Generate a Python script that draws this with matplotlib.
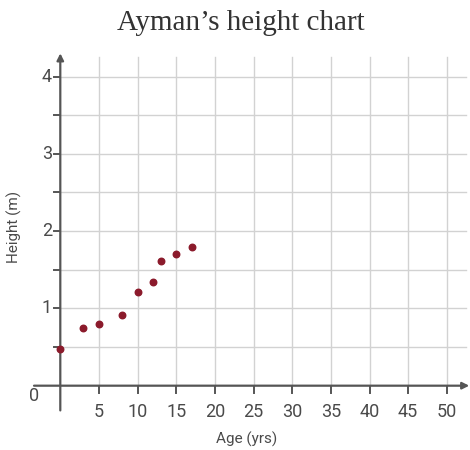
import matplotlib.pyplot as plt

age = [0, 3, 5, 8, 10, 12, 13, 15, 17]
height = [0.47, 0.75, 0.80, 0.92, 1.21, 1.34, 1.61, 1.71, 1.80]
x_ticks = [5, 10, 15, 20, 25, 30, 35, 40, 45, 50]
y_ticks = [1, 2, 3, 4]
y_minor = [0.5, 1, 1.5, 2, 2.5, 3, 3.5, 4]

tick_font = ['Roboto', 'DejaVu Sans']
axis_col = '#555555'
text_col = '#4a4a4a'

fig = plt.figure(figsize=(4.7, 4.5), dpi=100)
ax = fig.add_axes([0, 0, 1, 1])
ax.set_xlim(-7.80, 53.0)
ax.set_ylim(-0.832, 4.99)
ax.axis('off')

# grid
for xv in x_ticks:
    ax.plot([xv, xv], [0, 4.25], color='#d2d2d2', lw=1, zorder=1)
for yv in y_minor:
    ax.plot([0, 52.5], [yv, yv], color='#d2d2d2', lw=1, zorder=1)

# axes with arrows
ax.annotate('', xy=(52.9, 0), xytext=(-3.4, 0),
            arrowprops=dict(arrowstyle='-|>', color=axis_col, lw=1.6,
                            mutation_scale=10, shrinkA=0, shrinkB=0), zorder=2)
ax.annotate('', xy=(0, 4.30), xytext=(0, -0.32),
            arrowprops=dict(arrowstyle='-|>', color=axis_col, lw=1.6,
                            mutation_scale=10, shrinkA=0, shrinkB=0), zorder=2)

# ticks and labels
for xv in x_ticks:
    ax.plot([xv, xv], [0, -0.09], color=axis_col, lw=1.4, zorder=2)
    ax.text(xv, -0.34, str(xv), ha='center', va='center', fontsize=13,
            family=tick_font, color=text_col)
for yv in y_minor:
    ax.plot([-0.75, 0], [yv, yv], color=axis_col, lw=1.4, zorder=2)
for yv in y_ticks:
    ax.text(-1.1, yv, str(yv), ha='right', va='center', fontsize=13,
            family=tick_font, color=text_col)
ax.text(-3.4, -0.13, '0', ha='center', va='center', fontsize=13,
        family=tick_font, color=text_col)

ax.text(24.1, -0.70, 'Age (yrs)', ha='center', va='center', fontsize=11,
        family=tick_font, color=text_col)
ax.text(-5.9, 2.05, 'Height (m)', ha='center', va='center', fontsize=11,
        family=tick_font, color=text_col, rotation=90)
ax.text(23.4, 4.69, 'Ayman\u2019s height chart', ha='center', va='center',
        fontsize=21, family='Liberation Serif', color='#333333')

ax.scatter(age, height, s=22, color='#8b1a2b', zorder=3)

fig.savefig('out.png', dpi=100)
